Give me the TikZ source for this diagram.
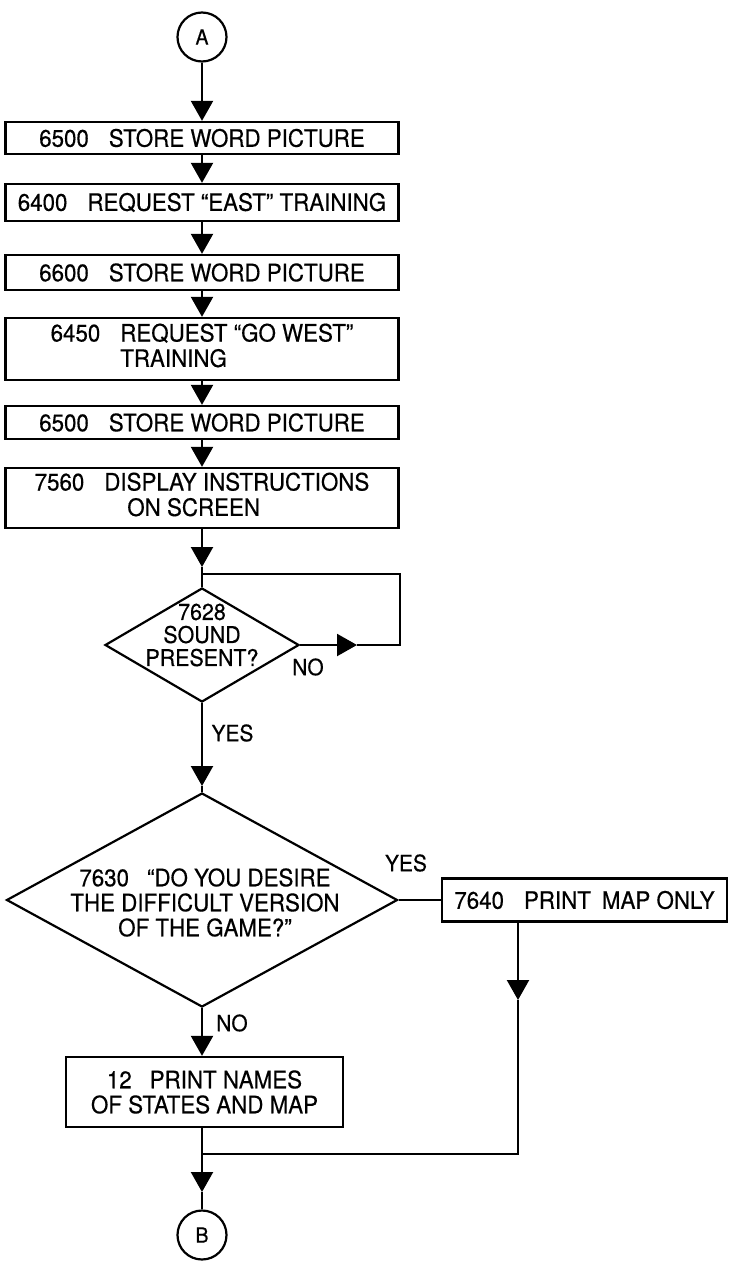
\documentclass[tikz,border=0pt]{standalone}
\usepackage{fontspec}
\setmainfont{TeX Gyre Heros}[FakeStretch=0.93,FakeBold=0.4]
\usetikzlibrary{arrows.meta,shapes.geometric}
\begin{document}
\begin{tikzpicture}[x=1pt,y=-1pt,
  txt/.style={font=\fontsize{24}{25}\selectfont},
  proc/.style={txt, draw, line width=2.3pt, rectangle, inner sep=0pt,
               minimum width=393pt, align=center},
  dec/.style={draw, diamond, line width=2.2pt, inner sep=0pt},
  conn/.style={draw, circle, line width=2.2pt, minimum size=49pt, inner sep=0pt,
               font=\fontsize{21}{21}\selectfont},
  tag/.style={font=\fontsize{22.5}{22.5}\selectfont, inner sep=0pt},
  line/.style={line width=2.2pt},
  arr/.style={line, -{Triangle[length=20pt,width=22pt]}}]

\fill[white] (0,0) rectangle (729,1261);
\useasboundingbox (0,0) rectangle (729,1261);

% connector A and the straight chain of process boxes
\node[conn] (A) at (202,37) {A};
\node[proc, minimum height=32pt] (b1) at (202,138) {6500\hspace{20pt}STORE WORD PICTURE};
\node[proc, minimum height=37pt] (b2) at (202,202.5) {6400\hspace{20pt}REQUEST “EAST” TRAINING};
\node[proc, minimum height=35pt] (b3) at (202,272.5) {6600\hspace{20pt}STORE WORD PICTURE};
\node[proc, minimum height=62pt] (b4) at (202,349)
  {6450\hspace{20pt}\begin{tabular}[t]{@{}l@{}}REQUEST “GO WEST”\\TRAINING\end{tabular}};
\node[proc, minimum height=33pt] (b5) at (202,422.5) {6500\hspace{20pt}STORE WORD PICTURE};
\node[proc, minimum height=60pt] (b6) at (202,498)
  {7560\hspace{20pt}\begin{tabular}[t]{@{}l@{}}DISPLAY INSTRUCTIONS\\\hspace{23pt}ON SCREEN\end{tabular}};

% decision: sound present?
\node[dec, minimum width=194pt, minimum height=114pt] (d1) at (202,645) {};
\node[font=\fontsize{23}{23}\selectfont, align=center, inner sep=0pt] (d1t) at (202,635)
  {7628\\SOUND\\PRESENT?};

% decision: difficult version?
\node[dec, minimum width=391pt, minimum height=214pt] (d2) at (202,900) {};
\node[txt, align=center, inner sep=0pt] (d2t) at (205,902.5)
  {7630\hspace{18pt}“DO YOU DESIRE\\THE DIFFICULT VERSION\\OF THE GAME?”};

\node[proc, minimum width=285pt, minimum height=43pt] (m1) at (584.5,900)
  {7640\hspace{20pt}PRINT\hspace{11pt}MAP ONLY};
\node[proc, minimum width=277pt, minimum height=70pt] (b12) at (204.5,1092)
  {12\hspace{18pt}PRINT NAMES\\OF STATES AND MAP};

\node[conn] (B) at (202,1235) {B};

% routing points
\coordinate (t1) at (202,567);
\coordinate (j1) at (202,574);
\coordinate (ne1) at (400,574);
\coordinate (se1) at (400,645);
\coordinate (t2) at (357,645);
\coordinate (t3) at (202,786);
\coordinate (t4) at (518,1000);
\coordinate (jr) at (518,1154);
\coordinate (jl) at (202,1154);
\coordinate (t5) at (202,1192);

% main flow
\draw[arr] (A) -- (b1);
\draw[arr] (b1) -- (b2);
\draw[arr] (b2) -- (b3);
\draw[arr] (b3) -- (b4);
\draw[arr] (b4) -- (b5);
\draw[arr] (b5) -- (b6);
\draw[arr] (b6) -- (t1);
\draw[line] (t1) -- (d1.north);

% waiting loop on NO
\draw[arr] (d1.east) -- (t2);
\draw[line] (t2) -- (se1) -- (ne1) -- (j1);
\node[tag] (no1) at (308,667) {NO};

% YES to the second decision
\draw[arr] (d1.south) -- (t3);
\draw[line] (t3) -- (d2.north);
\node[tag] (yes1) at (232.5,733) {YES};

% YES branch
\draw[line] (d2.east) -- (m1.west);
\node[tag] (yes2) at (406,863) {YES};
\draw[arr] (m1.south -| t4) -- (t4);
\draw[line] (t4) -- (jr) -- (jl);

% NO branch
\draw[arr] (d2.south) -- (d2.south |- b12.north);
\node[tag] (no2) at (232,1023) {NO};
\draw[line] (b12.south -| jl) -- (jl);
\draw[arr] (jl) -- (t5);
\draw[line] (t5) -- (B);
\end{tikzpicture}
\end{document}
